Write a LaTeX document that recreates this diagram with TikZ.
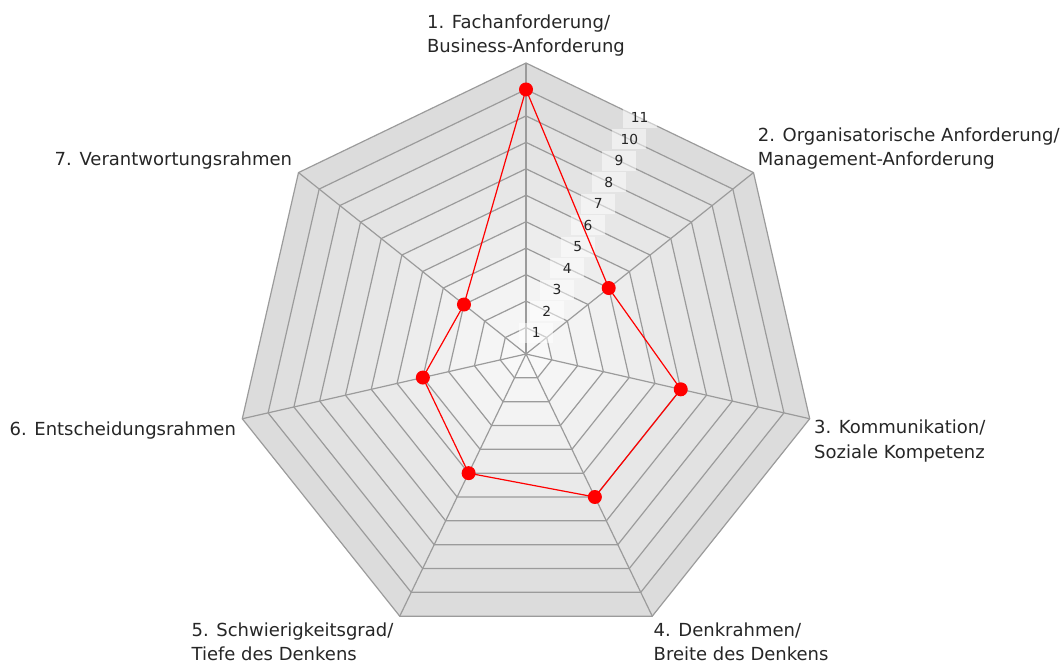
\documentclass[tikz,border=0pt]{standalone}
\usepackage{fontspec}
\setmainfont{DejaVu Sans}
\usetikzlibrary{calc, positioning}

\definecolor{gridgray}{RGB}{155,155,155}
\definecolor{datared}{RGB}{255,0,0}
\tikzset{
  grid line/.style={gridgray, line width=0.6pt},
  axis label/.style={inner sep=0pt, align=left, text=black!85,
    font=\fontsize{9}{12.2}\selectfont},
  tick label/.style={fill=white, fill opacity=0.5, text opacity=1,
    inner sep=0pt, minimum width=17pt, minimum height=10pt,
    text=black!85, font=\fontsize{6.9}{8}\selectfont},
  data line/.style={datared, line width=0.6pt},
}

\begin{document}
\begin{tikzpicture}[x=0.5pt, y=0.5pt]
  \useasboundingbox (0,0) rectangle (1064,-663);

  % --- Centre and spoke ends ---
  \coordinate (c) at (526,-354);
  \def\rmax{291}
  \foreach \i in {1,...,7}
    \coordinate (v\i) at ($(c)+({90-(\i-1)*360/7}:\rmax)$);

  % --- Rings, outside in ---
  \foreach \k in {11,...,1} {
    \pgfmathsetmacro{\rad}{\k*\rmax/11}
    \pgfmathsetmacro{\shade}{1.6+1.1*\k}
    \filldraw[grid line, fill=black!\shade] ($(c)+(90:\rad)$)
      \foreach \i in {1,...,6} { -- ($(c)+({90-\i*360/7}:\rad)$) } -- cycle;
  }

  % --- Spokes ---
  \foreach \i in {1,...,7}
    \draw[grid line] (c) -- (v\i);

  % --- Scale ---
  \foreach \k in {1,...,11}
    \node[tick label] (t\k) at ($(c)+(64.29:{\k*\rmax/11*0.901})$) {\k};

  % --- Axis labels ---
  \node[axis label, anchor=south] (l1) at ($(v1)+(0,6)$)
    {1. Fachanforderung/\\Business-Anforderung};
  \node[axis label, anchor=south west] (l2) at ($(v2)+(4,3)$)
    {2. Organisatorische Anforderung/\\Management-Anforderung};
  \node[axis label, anchor=north west] (l3) at ($(v3)+(4,-1)$)
    {3. Kommunikation/\\Soziale Kompetenz};
  \node[axis label, anchor=north west] (l4) at ($(v4)+(1,-6)$)
    {4. Denkrahmen/\\Breite des Denkens};
  \node[axis label, anchor=north east] (l5) at ($(v5)+(-6,-6)$)
    {5. Schwierigkeitsgrad/\\Tiefe des Denkens};
  \node[axis label, anchor=north east] (l6) at ($(v6)+(-6,-3)$)
    {6. Entscheidungsrahmen};
  \node[axis label, anchor=south east] (l7) at ($(v7)+(-6,3)$)
    {7. Verantwortungsrahmen};

  % --- Values ---
  \foreach \i/\val in {1/10,2/4,3/6,4/6,5/5,6/4,7/3}
    \coordinate (p\i) at ($(c)+({90-(\i-1)*360/7}:{\val*\rmax/11})$);
  \draw[data line] (p1) -- (p2) -- (p3) -- (p4) -- (p5) -- (p6) -- (p7) -- cycle;
  \foreach \i in {1,...,7}
    \fill[datared] (p\i) circle (7);
\end{tikzpicture}
\end{document}
